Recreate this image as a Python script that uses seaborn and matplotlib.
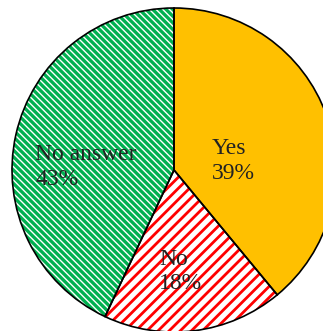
import matplotlib
matplotlib.use("Agg")
import matplotlib.pyplot as plt
import seaborn as sns

categories = ["Yes", "No", "No answer"]
values = [39, 18, 43]
pct_labels = ["39%", "18%", "43%"]

sns.set_theme(style="white")
plt.rcParams["font.family"] = ["Liberation Serif", "DejaVu Serif"]
plt.rcParams["hatch.linewidth"] = 1.5

face_colors = ["#FFC000", "#FFFFFF", "#00B050"]
hatch_colors = ["#FFC000", "#FF0000", "#FFFFFF"]
hatches = [None, "///", "\\" * 5]
hatch_lw = [None, 2.0, 1.0]

fig = plt.figure(figsize=(3.23, 3.31), dpi=100)
ax = fig.add_axes([0, 0, 1, 1])

wedges, _ = ax.pie(values, startangle=90, counterclock=False, colors=face_colors,
                   wedgeprops=dict(linewidth=0))
for w, hc, h, lw in zip(wedges, hatch_colors, hatches, hatch_lw):
    w.set_edgecolor(hc)
    if h:
        w.set_hatch(h)
        if hasattr(w, "set_hatch_linewidth"):
            w.set_hatch_linewidth(lw)

# black outlines
ax.pie(values, startangle=90, counterclock=False,
       wedgeprops=dict(fill=False, edgecolor="black", linewidth=1.2))

label_pos = [(0.235, 0.056), (-0.093, -0.627), (-0.858, 0.019)]
for cat, p, (x, y) in zip(categories, pct_labels, label_pos):
    ax.text(x, y, f"{cat}\n{p}", ha="left", va="center", fontsize=17,
            color="#222222", linespacing=1.2, multialignment="left")

ax.set_aspect("auto")
ax.set_xlim(-174 / 162, (323 - 174) / 162)
ax.set_ylim(-161 / 162, 170 / 162)
ax.axis("off")

fig.savefig("out.png", dpi=100)
